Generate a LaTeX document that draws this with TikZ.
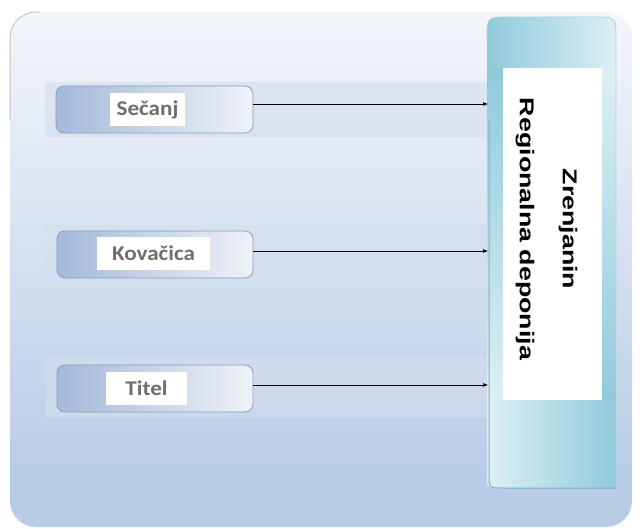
\documentclass[tikz,border=0pt]{standalone}
\usepackage{fontspec}
\setmainfont{Carlito}
\newfontfamily\depfont{Liberation Sans}
\usetikzlibrary{arrows.meta}
\definecolor{bgblue}{HTML}{B9CCE6}
\definecolor{bandblue}{HTML}{D3DEEE}
\definecolor{boxedge}{HTML}{8A9DBB}
\definecolor{boxdark}{HTML}{A5B9DA}
\definecolor{boxlight}{HTML}{EEF2F8}
\definecolor{tealdark}{HTML}{8FCBDB}
\definecolor{teallight}{HTML}{DDEFF4}
\definecolor{tealedge}{HTML}{7FB1C2}
\definecolor{labelgray}{HTML}{6E6E6E}
\pgfdeclareverticalshading{bgshade}{100bp}{color(0bp)=(bgblue); color(30bp)=(bgblue); color(62bp)=(bgblue!40!white); color(85bp)=(white); color(100bp)=(white)}
\tikzset{
  srcbox/.style={draw=boxedge, line width=0.8pt, rounded corners=8pt, left color=boxdark, right color=boxlight, shading angle=90},
  srcback/.style={fill=white, draw=none, inner sep=0pt, minimum height=33pt, anchor=center},
  srclabel/.style={text=labelgray, font=\bfseries\fontsize{21}{23}\selectfont, xscale=1.1, inner sep=0pt, anchor=center},
  band/.style={fill=bandblue, draw=none},
  link/.style={-{Latex[length=5pt,width=4pt]}, line width=0.6pt, black}
}
\begin{document}
\begin{tikzpicture}[x=1pt,y=-1pt]
\useasboundingbox (0,0) rectangle (643,529);
\fill[white] (0,0) rectangle (643,529);
% outer panel
\shade[shading=bgshade, rounded corners=26pt] (10,12) rectangle (632,527);
\draw[gray!60, line width=0.6pt, rounded corners=26pt] (10,120) -- (10,12) -- (40,12);
% bands
\fill[band, opacity=0.6] (45,82) rectangle (490,137);
\fill[band, opacity=0.6] (45,225) rectangle (490,284);
\fill[band, opacity=0.6] (45,358) rectangle (490,418);
% big target box
\def\bigbox{(616,488) -- (502,488) .. controls (487,488) .. (487,473) -- (487,39) .. controls (487,17) .. (509,17) -- (594,17) .. controls (616,17) .. (616,39) -- cycle}
\begin{scope}
\clip \bigbox;
\shade[left color=tealdark, right color=teallight] (487,17) rectangle (616,68);
\shade[left color=teallight, right color=tealdark] (487,400) rectangle (616,488);
\shade[top color=tealdark, bottom color=teallight] (487,68) rectangle (503,400);
\shade[top color=teallight, bottom color=tealdark] (602,68) rectangle (616,400);
\end{scope}
\draw[tealedge!60, line width=0.8pt] (616,480) -- (616,39) .. controls (616,17) .. (594,17) -- (509,17) .. controls (487,17) .. (487,39);
\draw[tealedge, line width=1pt] (489,120) -- (489,473) .. controls (489,488) .. (503,488) -- (616,488);
\node[fill=white, minimum width=99pt, minimum height=332pt, inner sep=0pt] (dep) at (552.5,234) {};
\node[rotate=-90, xscale=1.34, align=center, font=\depfont\bfseries\fontsize{20}{43}\selectfont] (deptext) at (546.5,229) {Zrenjanin\\Regionalna deponija};
% source boxes
\draw[srcbox] (56,86) rectangle (253,133);
\node[srcback, minimum width=75pt] (secanjbg) at (147.5,110) {};
\node[srclabel] (secanj) at (secanjbg.center) {Sečanj};
\draw[srcbox] (57,231) rectangle (253,278);
\node[srcback, minimum width=113pt] (kovacicabg) at (153.5,253.5) {};
\node[srclabel] (kovacica) at (kovacicabg.center) {Kovačica};
\draw[srcbox] (57,365) rectangle (253,412);
\node[srcback, minimum width=81pt] (titelbg) at (146.5,388.5) {};
\node[srclabel] (titel) at (titelbg.center) {Titel};
\coordinate (s1) at (253,104);
\coordinate (s2) at (253,251);
\coordinate (s3) at (253,385);
\coordinate (t1) at (488,104);
\coordinate (t2) at (488,251);
\coordinate (t3) at (488,385);
\draw[link] (s1) -- (t1);
\draw[link] (s2) -- (t2);
\draw[link] (s3) -- (t3);
\end{tikzpicture}
\end{document}
